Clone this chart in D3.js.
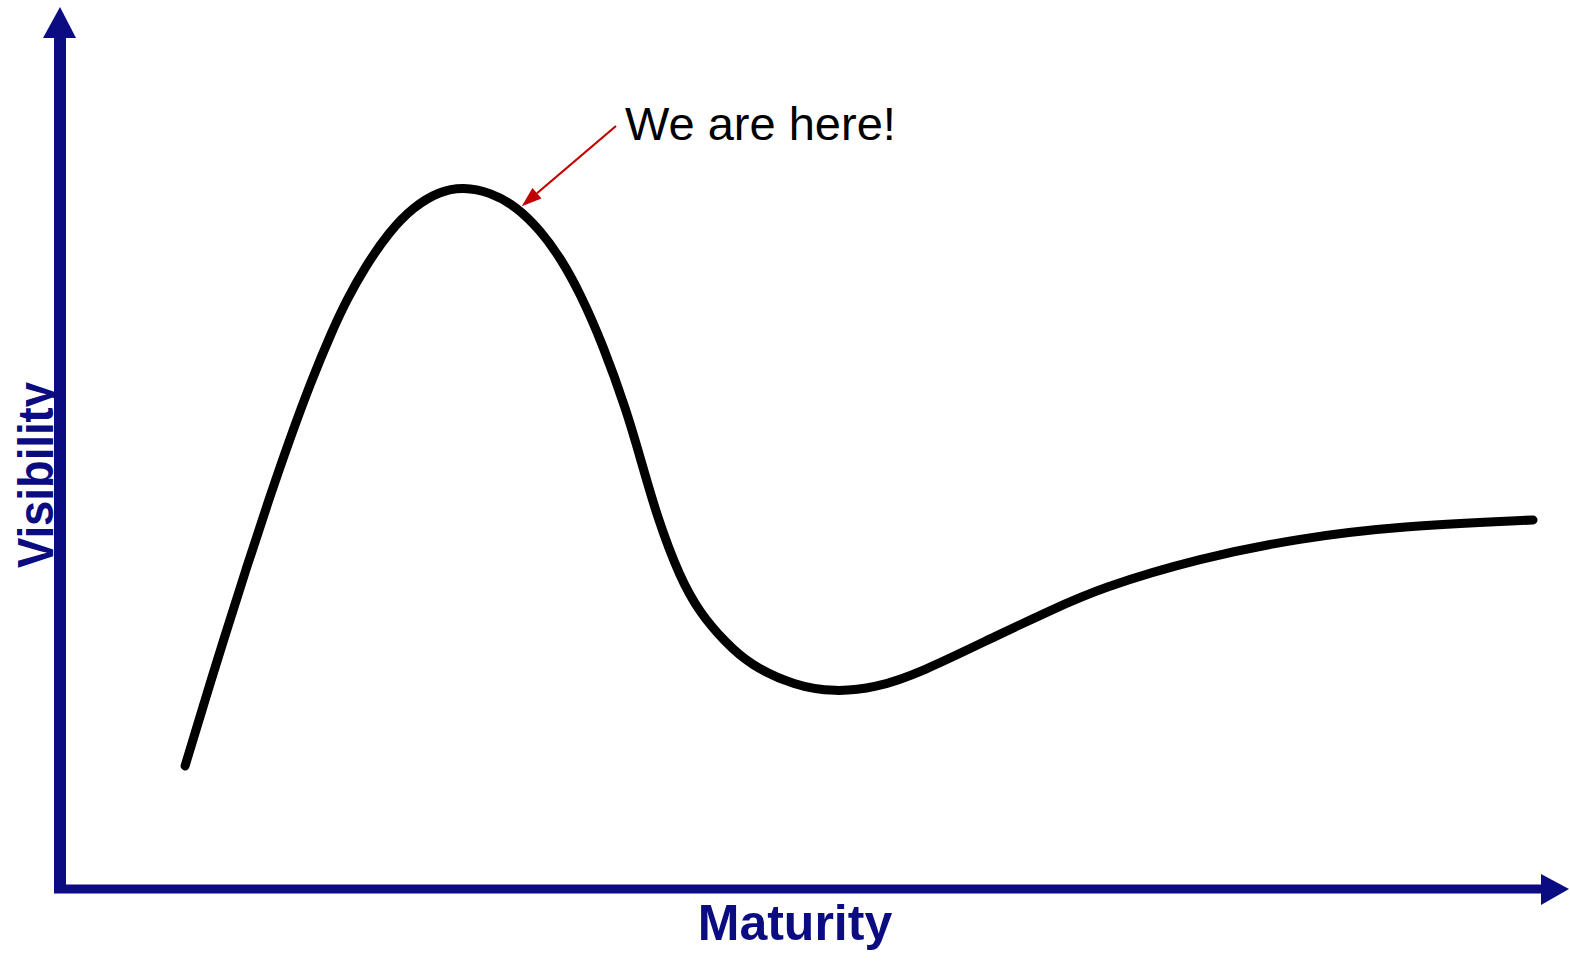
<!DOCTYPE html>
<html>
<head>
<meta charset="utf-8">
<script src="https://cdn.jsdelivr.net/npm/d3@7"></script>
<style>
  html, body { margin: 0; padding: 0; background: #fff; }
  svg { display: block; }
</style>
</head>
<body>
<svg id="chart" width="1570" height="964"></svg>
<script>
// Hype curve (maturity 0-100, visibility 0-100).
const maturity = [8.45, 9.80, 11.05, 12.55, 14.10, 15.50, 17.00, 18.41, 19.37, 20.61,
  22.23, 23.85, 25.68, 27.23, 29.05, 30.88, 32.43, 33.78, 35.14, 36.69, 38.31, 39.19,
  40.34, 41.89, 43.24, 44.93, 46.62, 49.66, 52.36, 55.07, 58.11, 63.51, 66.89, 70.27,
  77.03, 83.78, 90.54, 99.53];
const visibility = [14.39, 22.17, 29.25, 37.50, 45.75, 52.83, 59.91, 65.80, 69.34, 73.23,
  77.36, 80.31, 82.19, 82.67, 82.08, 80.31, 77.59, 74.41, 70.17, 64.03, 56.13, 50.83,
  43.75, 36.56, 32.43, 29.01, 26.30, 23.82, 23.11, 23.58, 25.35, 29.95, 32.70, 35.38,
  38.92, 41.27, 42.69, 43.40];

const xLabel = "Maturity";
const yLabel = "Visibility";
const note = "We are here!";
const notePoint = [31.2, 80.4]; // where the red arrow points

const navy = "#0b0b82";
const svg = d3.select("#chart");

const x = d3.scaleLinear().domain([0, 100]).range([60, 1540]);
const y = d3.scaleLinear().domain([0, 100]).range([888, 40]);

// axes, drawn as thick lines with triangle heads
const axes = svg.append("g");
axes.append("line")
  .attr("x1", x(0)).attr("x2", x(0))
  .attr("y1", 893).attr("y2", 36)
  .attr("stroke", navy).attr("stroke-width", 12);
axes.append("path")
  .attr("d", d3.line()([[x(0), 7], [x(0) - 17, 38], [x(0) + 16, 38]]) + "Z")
  .attr("fill", navy);

axes.append("line")
  .attr("x1", x(0) - 6).attr("x2", 1542)
  .attr("y1", 889).attr("y2", 889)
  .attr("stroke", navy).attr("stroke-width", 9);
axes.append("path")
  .attr("d", d3.line()([[1569, 889], [1541, 874], [1541, 905]]) + "Z")
  .attr("fill", navy);

// axis titles
svg.append("text")
  .attr("x", 795).attr("y", 940)
  .attr("text-anchor", "middle")
  .attr("font-family", "'Liberation Sans', Arial, sans-serif")
  .attr("font-weight", "bold")
  .attr("font-size", 50)
  .attr("fill", navy)
  .text(xLabel);

svg.append("text")
  .attr("transform", "translate(53,475) rotate(-90)")
  .attr("text-anchor", "middle")
  .attr("font-family", "'Liberation Sans', Arial, sans-serif")
  .attr("font-weight", "bold")
  .attr("font-size", 50)
  .attr("textLength", 186)
  .attr("lengthAdjust", "spacingAndGlyphs")
  .attr("fill", navy)
  .text(yLabel);

// the curve (B-spline smooths out small reading errors)
const pts = maturity.map((m, i) => [m, visibility[i]]);
const line = d3.line()
  .x(d => x(d[0]))
  .y(d => y(d[1]))
  .curve(d3.curveBasis);

svg.append("path")
  .datum(pts)
  .attr("d", line)
  .attr("fill", "none")
  .attr("stroke", "#000")
  .attr("stroke-width", 9)
  .attr("stroke-linecap", "round")
  .attr("stroke-linejoin", "round");

// annotation
const tip = [x(notePoint[0]), y(notePoint[1])];
const tail = [616, 126];
const ang = Math.atan2(tip[1] - tail[1], tip[0] - tail[0]);
const hl = 20, hw = 7;
const base = [tip[0] - hl * Math.cos(ang), tip[1] - hl * Math.sin(ang)];

svg.append("line")
  .attr("x1", tail[0]).attr("y1", tail[1])
  .attr("x2", base[0]).attr("y2", base[1])
  .attr("stroke", "#c00000").attr("stroke-width", 2.2);
svg.append("path")
  .attr("d", d3.line()([
    tip,
    [base[0] + hw * Math.sin(ang), base[1] - hw * Math.cos(ang)],
    [base[0] - hw * Math.sin(ang), base[1] + hw * Math.cos(ang)]
  ]) + "Z")
  .attr("fill", "#c00000");

svg.append("text")
  .attr("x", 625).attr("y", 140)
  .attr("font-family", "'Liberation Sans', Arial, sans-serif")
  .attr("font-size", 47)
  .attr("fill", "#000")
  .text(note);
</script>
</body>
</html>
